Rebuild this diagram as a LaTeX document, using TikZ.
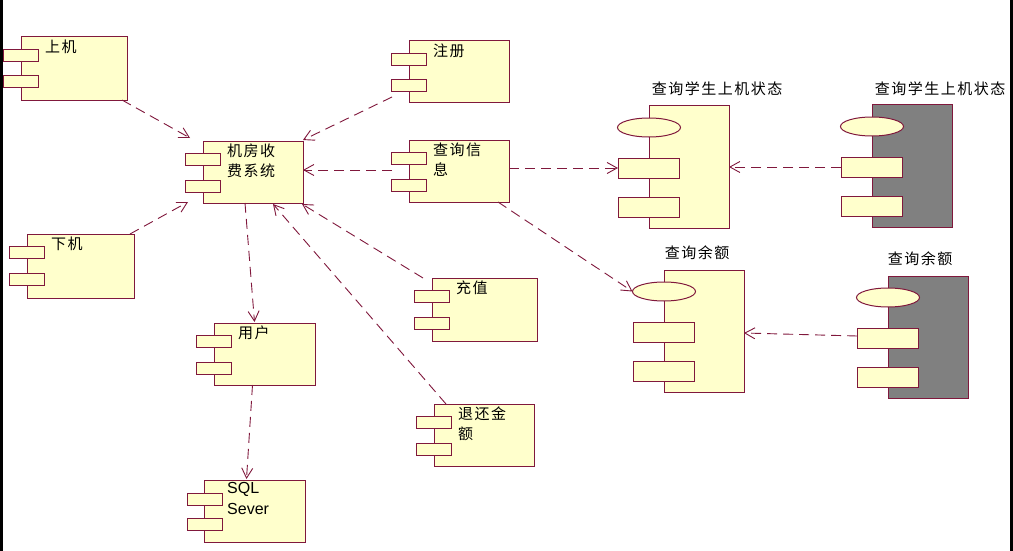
\documentclass[tikz,border=0pt]{standalone}
\usepackage{fontspec}
\usetikzlibrary{arrows.meta,calc,shapes.geometric}
\newfontfamily\cjk[LetterSpace=10]{Noto Sans CJK SC}
\newfontfamily\latn{Liberation Sans}
\definecolor{linec}{RGB}{128,24,60}
\definecolor{boxfill}{RGB}{255,255,204}
\definecolor{grayfill}{RGB}{128,128,128}
\tikzset{
  mainbox/.style={draw=linec, fill=boxfill, line width=1pt, inner sep=0pt, outer sep=0pt, anchor=north west, rectangle},
  port/.style={draw=linec, fill=boxfill, line width=1pt, inner sep=0pt, outer sep=0pt, anchor=north west, rectangle, minimum width=35pt, minimum height=12pt},
  bport/.style={draw=linec, fill=boxfill, line width=1pt, inner sep=0pt, outer sep=0pt, anchor=north west, rectangle, minimum width=61pt, minimum height=20pt},
  ell/.style={draw=linec, fill=boxfill, line width=1pt, inner sep=0pt, outer sep=0pt, ellipse, minimum width=63pt, minimum height=19pt},
  txt/.style={font=\cjk\fontsize{15}{19.5}\selectfont, inner sep=0pt, anchor=north west, align=left, text=black},
  btxt/.style={font=\cjk\fontsize{15}{19}\selectfont, inner sep=0pt, text=black},
  conn/.style={draw=linec, line width=0.9pt, dash pattern=on 10pt off 6pt, -{Straight Barb[length=10pt,width=11pt]}},
}
\newcommand\ucomp[6]{%
  \node[mainbox, minimum width=#4, minimum height=#5] (#1) at (#2,#3) {};
  \node[port] (#1p1) at ($(#1.north west)+(-18,12.5)$) {};
  \node[port] (#1p2) at ($(#1.north west)+(-18,39)$) {};
  \node[txt] (#1t) at ($(#1.north west)+(24,3)$) {#6};
}
\newcommand\bcomp[7]{%
  \node[mainbox, #4, minimum width=80pt, minimum height=122pt] (#1) at (#2,#3) {};
  \node[ell, anchor=center] (#1e) at ($(#1.north west)+(0,21.5)$) {};
  \node[bport] (#1p1) at ($(#1.north west)+(-31,52)$) {};
  \node[bport] (#1p2) at ($(#1.north west)+(-31,91)$) {};
  \node[btxt] (#1t) at ($(#1.north)+(#6,#7)$) {#5};
}
\begin{document}
\begin{tikzpicture}[x=1pt,y=-1pt]
\useasboundingbox (0,0) rectangle (1013,551);
\fill[white] (0,0) rectangle (1013,551);
\fill[black] (0,0) rectangle (3,551);
\fill[black] (1010,0) rectangle (1013,551);

\ucomp{shangji}{21}{37}{106pt}{64pt}{上机}
\ucomp{jifang}{203}{141}{100pt}{62pt}{机房收\\费系统}
\ucomp{zhuce}{409}{41}{100pt}{62pt}{注册}
\ucomp{chaxun}{409}{140}{100pt}{62pt}{查询信\\息}
\ucomp{xiaji}{27}{234}{107pt}{64pt}{下机}
\ucomp{yonghu}{214}{323}{101pt}{62pt}{用户}
\ucomp{chongzhi}{432}{278}{105pt}{63pt}{充值}
\ucomp{tuihuan}{434}{404}{100pt}{62pt}{退还金\\额}
\node[mainbox, minimum width=101pt, minimum height=62pt] (sql) at (204,480) {};
\node[port] (sqlp1) at ($(sql.north west)+(-17,13)$) {};
\node[port] (sqlp2) at ($(sql.north west)+(-17,38)$) {};
\node[txt, font=\latn\fontsize{16}{21}\selectfont] (sqlt) at ($(sql.north west)+(23,2)$) {SQL\\Sever};

\bcomp{xs1}{649}{106}{}{查询学生上机状态}{28}{-17}
\bcomp{xs2}{872}{105}{fill=grayfill}{查询学生上机状态}{28}{-16}
\bcomp{ye1}{664}{270}{}{查询余额}{-7}{-17}
\bcomp{ye2}{888}{276}{fill=grayfill}{查询余额}{-8}{-17}

\draw[conn] ($(shangji.south east)+(-5,-1)$) -- ($(jifang.north west)+(-13,-3)$);
\draw[conn] ($(zhuce.south west)+(-17,-6)$) -- ($(jifang.north east)+(0,-1)$);
\draw[conn] ($(chaxun.west)+(-17,-1)$) -- ($(jifang.east)+(0,-2)$);
\draw[conn] ($(xiaji.north east)+(-4,0)$) -- ($(jifang.south west)+(-15,-1)$);
\draw[conn] ($(jifang.south)+(-8,0)$) -- ($(yonghu.north)+(-10,-1)$);
\draw[conn] ($(yonghu.south)+(-12,0)$) -- ($(sql.north)+(-8,-1)$);
\draw[conn] ($(chongzhi.north west)+(-9,0)$) -- ($(jifang.south east)+(-1,1)$);
\draw[conn] ($(tuihuan.north west)+(12,0)$) -- ($(jifang.south)+(20,1)$);
\draw[conn] ($(chaxun.east)+(0,-3)$) -- (xs1p1.west);
\draw[conn] ($(chaxun.south east)+(-11,0)$) -- (ye1e.west);
\draw[conn] (xs2p1.west) -- (xs1.east);
\draw[conn] ($(ye2p1.west)+(0,-2)$) -- ($(ye1.east)+(0,2)$);
\end{tikzpicture}
\end{document}
